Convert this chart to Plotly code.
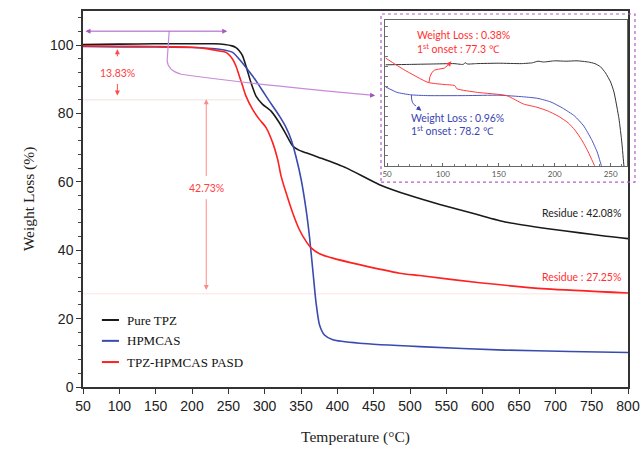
import plotly.graph_objects as go

# ---------------- main TGA data ----------------
tpz_T = [50, 100, 150, 200, 230, 245, 255, 260.5, 265, 269.6, 274.3, 281.2, 288.1, 297.2, 308.8, 320.2,
         329.5, 338.6, 347, 357, 375.4, 412.2, 458, 500, 541, 590, 633, 690, 734, 770, 800]
tpz_W = [100.2, 100.3, 100.4, 100.4, 100.4, 100.2, 99.8, 99.3, 98.4, 96.9, 93.9, 89.0, 85.1, 82.7, 80.7, 77.3,
         73.9, 70.5, 69.3, 68.5, 67.1, 64.1, 59.2, 56.0, 53.4, 50.6, 48.2, 46.3, 45.1, 44.1, 43.4]

hp_T = [50, 100, 150, 200, 220, 237.5, 255.9, 265.1, 274.3, 283.4, 292.7, 301.9, 311.0, 320.2, 329.5, 336.4,
        343.3, 350.2, 357, 361.6, 366.2, 370.8, 375.4, 382.3, 393.8, 430.5, 513.3, 630, 720, 800]
hp_W = [99.6, 99.5, 99.5, 99.3, 99.1, 98.8, 97.9, 95.9, 93.5, 91.0, 88.1, 85.1, 82.2, 79.3, 75.9, 72.4,
        67.2, 60.7, 51.9, 44.1, 34.3, 24.5, 18.2, 15.2, 13.8, 12.8, 11.8, 10.8, 10.4, 10.1]

pasd_T = [50, 100, 150, 200, 220, 237.5, 246.7, 255.9, 260.5, 265.1, 269.6, 274.3, 283.4, 292.7, 301.9, 311.0,
          317.9, 322.6, 329.5, 338.6, 347.8, 357, 363.9, 375.4, 393.7, 430.5, 485.7, 513.3, 596, 688, 800]
pasd_W = [99.8, 99.7, 99.6, 99.4, 99.0, 98.3, 97.9, 95.9, 93.9, 91.0, 88.1, 85.1, 81.2, 78.3, 75.9, 71.5,
          66.6, 61.7, 56.8, 50.9, 46.0, 42.6, 40.7, 39.0, 37.7, 35.8, 33.3, 32.6, 30.5, 28.7, 27.5]

series_names = ["Pure TPZ", "HPMCAS", "TPZ-HPMCAS PASD"]
series_colors = ["#1a1a1a", "#3a4bb0", "#ff2020"]

x_ticks = list(range(50, 801, 50))
y_ticks = [0, 20, 40, 60, 80, 100]

# ---------------- inset data (zoom of early weight loss) ----------------
ins_tpz_T = [48.6, 70, 90, 110, 118, 120, 122, 130, 150, 170, 180, 185, 190, 200, 210, 220, 230, 236, 241,
             245.4, 250, 253, 257.5, 260, 262, 264]
ins_tpz_V = [99.53, 99.54, 99.55, 99.56, 99.54, 99.58, 99.55, 99.56, 99.57, 99.56, 99.58, 99.62, 99.60, 99.63,
             99.62, 99.63, 99.60, 99.56, 99.48, 99.33, 99.10, 98.85, 98.18, 97.6, 96.98, 96.5]
ins_hp_T = [48.6, 59, 71, 86, 120, 150, 172, 185, 196.6, 207, 217.8, 226, 233, 238, 242, 245]
ins_hp_V = [98.98, 98.84, 98.78, 98.76, 98.76, 98.77, 98.73, 98.69, 98.60, 98.45, 98.25, 98.0, 97.66, 97.35, 96.98, 96.7]
ins_pasd_T = [48.6, 65, 86.6, 100, 110.6, 112.5, 131, 157, 172, 184, 193.5, 203, 212, 218, 224, 230, 236, 239]
ins_pasd_V = [99.70, 99.41, 99.09, 99.04, 99.01, 98.93, 98.84, 98.76, 98.55, 98.47, 98.38, 98.25, 98.08, 97.9,
              97.66, 97.35, 96.98, 96.75]
ins_x_ticks = [50, 100, 150, 200, 250]

fig = go.Figure()
for T, W, n, c in zip([tpz_T, hp_T, pasd_T], [tpz_W, hp_W, pasd_W], series_names, series_colors):
    fig.add_trace(go.Scatter(x=T, y=W, mode="lines", name=n, line=dict(color=c, width=1.6, shape="spline", smoothing=0.6),
                             showlegend=False, xaxis="x", yaxis="y"))
for T, W, n, c in zip([ins_tpz_T, ins_hp_T, ins_pasd_T], [ins_tpz_V, ins_hp_V, ins_pasd_V], series_names,
                      ["#333333", "#4a55c0", "#ff3a3a"]):
    fig.add_trace(go.Scatter(x=T, y=W, mode="lines", name=n + " (inset)", line=dict(color=c, width=1.0, shape="spline", smoothing=0.5),
                             showlegend=False, xaxis="x2", yaxis="y2"))

tick_font = dict(family="Liberation Sans, Arial", size=14, color="#222")
fig.update_layout(
    width=643, height=454,
    margin=dict(l=83, r=15, t=11, b=67, autoexpand=False),
    paper_bgcolor="white", plot_bgcolor="white",
    showlegend=False,
    xaxis=dict(range=[50, 800], tickvals=x_ticks, ticks="outside", ticklen=5, tickcolor="#333",
               showline=True, linecolor="#333", linewidth=1.5, mirror=True, showgrid=False, zeroline=False,
               tickfont=tick_font,
               title=dict(text="Temperature (°C)", font=dict(family="Liberation Serif, Times New Roman", size=15.5, color="#222"),
                          standoff=19)),
    yaxis=dict(range=[0, 110], tickvals=y_ticks, ticks="outside", ticklen=5, tickcolor="#333",
               minor=dict(dtick=4, ticks="outside", ticklen=3, tickcolor="#444"),
               showline=True, linecolor="#333", linewidth=1.5, mirror=True, showgrid=False, zeroline=False,
               tickfont=tick_font,
               title=dict(text="Weight Loss (%)", font=dict(family="Liberation Serif, Times New Roman", size=15.5, color="#222"),
                          standoff=12)),
    xaxis2=dict(domain=[0.555, 0.9974], anchor="y2", range=[48.6, 264.3], tickvals=ins_x_ticks,
                ticks="inside", ticklen=3, tickcolor="#666",
                minor=dict(dtick=10, ticks="inside", ticklen=2, tickcolor="#777"),
                showline=True, linecolor="#666", linewidth=1, mirror=True, showgrid=False, zeroline=False,
                tickfont=dict(family="Lato, Liberation Sans", size=8, color="#555")),
    yaxis2=dict(domain=[0.5878, 0.976], anchor="x2", range=[97.0, 100.65], showticklabels=False,
                ticks="inside", ticklen=3, tickcolor="#777", dtick=0.25,
                showline=True, linecolor="#666", linewidth=1, mirror=True, showgrid=False, zeroline=False),
)

shapes = []
# faint reference lines
shapes.append(dict(type="line", xref="x", yref="y", x0=50, x1=270, y0=84, y1=84, line=dict(color="#f6dede", width=1), layer="below"))
shapes.append(dict(type="line", xref="x", yref="y", x0=50, x1=800, y0=27.25, y1=27.25, line=dict(color="#fbe3e3", width=1), layer="below"))
# purple bracket leading to inset
shapes.append(dict(type="path", xref="x", yref="y",
                   path="M 168.6,104.1 L 165.8,95.5 Q 166.5,92.6 185,91.5 C 250,89.5 350,87.3 447,85.4",
                   line=dict(color="#c98ad9", width=1.2)))
# dashed purple frame around inset
shapes.append(dict(type="rect", xref="paper", yref="paper", x0=0.5468, x1=1.0128, y0=0.545, y1=0.992,
                   line=dict(color="#b55ccc", width=1.2, dash="dot")))
# inset curved arrows
shapes.append(dict(type="path", xref="x2", yref="y2",
                   path="M 87.5,99.09 Q 88.5,99.42 96,99.42 Q 102,99.42 104.5,99.52",
                   line=dict(color="#ff3a3a", width=1)))
shapes.append(dict(type="path", xref="x2", yref="y2",
                   path="M 71.8,98.78 Q 71.5,98.55 76,98.5",
                   line=dict(color="#4a55c0", width=1)))
# manual legend lines
leg_y = [19.6, 13.5, 7.3]
for yy, c in zip(leg_y, series_colors):
    shapes.append(dict(type="line", xref="x", yref="y", x0=76, x1=99.5, y0=yy, y1=yy, line=dict(color=c, width=2)))
fig.update_layout(shapes=shapes)

ann = []
def arrow(x, y, ax, ay, color, xref="x", yref="y", side="end", head=2, size=1, width=1):
    ann.append(dict(x=x, y=y, ax=ax, ay=ay, xref=xref, yref=yref, axref=xref, ayref=yref, text="",
                    showarrow=True, arrowhead=head, arrowsize=size, arrowwidth=width, arrowcolor=color,
                    arrowside=side, startarrowhead=head, startarrowsize=size))

arrow(248.5, 104.1, 51.4, 104.1, "#a855c0", side="end+start")
arrow(452, 85.3, 444, 85.4, "#a050c0")
arrow(97.3, 98.8, 97.3, 96.3, "#ff4a4a")
arrow(97.3, 85.3, 97.3, 89.1, "#ff4a4a")
arrow(219.6, 84.2, 219.6, 61.3, "#ff8a8a")
arrow(219.6, 28.4, 219.6, 55.4, "#ff8a8a")
arrow(107.5, 99.62, 104.0, 99.50, "#ff3a3a", xref="x2", yref="y2")
arrow(80.7, 98.38, 75.5, 98.50, "#3a45b0", xref="x2", yref="y2")

def text(x, y, s, color, xanchor="center", xref="x", yref="y", size=11, fam="Lato, Liberation Sans"):
    ann.append(dict(x=x, y=y, xref=xref, yref=yref, text=s, showarrow=False, xanchor=xanchor, yanchor="middle",
                    font=dict(family=fam, size=size, color=color)))

text(97.3, 92.0, "13.83%", "#ff4040", size=10.5)
text(219.6, 58.3, "42.73%", "#ff4040", size=10.5)
text(792.7, 51.0, "Residue : 42.08%", "#222222", xanchor="right", size=10.5)
text(792.7, 32.3, "Residue : 27.25%", "#ff3030", xanchor="right", size=10.5)

# inset texts
text(74.6, 100.28, "Weight Loss : 0.38%", "#ff3030", xanchor="left", xref="x2", yref="y2", size=10.5)
text(74.6, 99.94, "1<sup>st</sup> onset : 77.3 ℃", "#ff3030", xanchor="left", xref="x2", yref="y2", size=10.5)
text(69.6, 98.21, "Weight Loss : 0.96%", "#3a45b0", xanchor="left", xref="x2", yref="y2", size=10.5)
text(69.6, 97.88, "1<sup>st</sup> onset : 78.2 ℃", "#3a45b0", xanchor="left", xref="x2", yref="y2", size=10.5)

# legend texts
for yy, n in zip(leg_y, series_names):
    text(108, yy, n, "#111", xanchor="left", size=13, fam="Liberation Serif, Times New Roman")

fig.update_layout(annotations=ann)
fig.write_html("out.html", config={"displayModeBar": False},
               post_script="document.body.style.margin='0';document.body.style.overflow='hidden';")
